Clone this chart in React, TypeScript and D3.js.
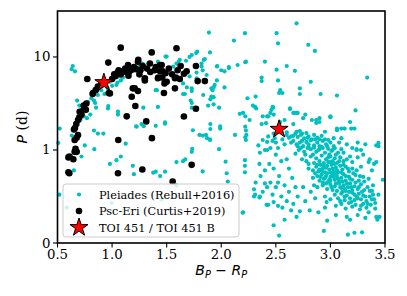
import React from 'react';
import * as d3 from 'd3';

const xTicks = [0.5, 1.0, 1.5, 2.0, 2.5, 3.0, 3.5];
const yTicks = [0, 1, 10];
const legendLabels = ['Pleiades (Rebull+2016)', 'Psc-Eri (Curtis+2019)', 'TOI 451 / TOI 451 B'];

// [Bp - Rp, period in days]
const pleiadesUpper: [number, number][] = [
  [0.64, 8.0], [0.66, 7.0], [0.63, 7.4], [0.68, 3.4], [0.70, 3.0], [0.72, 2.7], [0.74, 2.3], [0.71, 2.1],
  [0.77, 2.2], [0.80, 2.4], [0.78, 3.3], [0.81, 3.6], [0.834, 3.4], [0.845, 3.2], [0.853, 2.85], [0.87, 3.9],
  [0.90, 4.4], [0.93, 4.0], [0.96, 4.6], [0.962, 2.8], [0.965, 2.97], [0.98, 5.4], [1.0, 4.9], [1.04, 5.0],
  [1.05, 5.3], [1.08, 5.6], [1.06, 6.2], [1.10, 6.0], [1.054, 2.58], [1.054, 2.4], [1.15, 6.5], [1.2, 7.2],
  [1.25, 8.2], [1.28, 8.5], [1.33, 8.5], [1.42, 8.9], [1.49, 10.1], [1.5, 10.1], [1.56, 7.9], [1.59, 8.5],
  [1.61, 8.9], [1.62, 9.3], [1.677, 9.1], [1.71, 10.0], [1.73, 10.5], [1.77, 11.0], [1.78, 11.4], [1.82, 7.9],
  [1.82, 8.5], [1.84, 9.3], [1.85, 9.5], [1.887, 18.3], [1.897, 11.2], [1.96, 7.9], [1.963, 8.0], [2.0, 7.2],
  [2.03, 7.0], [2.07, 7.6], [2.07, 7.8], [2.116, 15], [2.15, 8.2], [2.22, 8.8], [2.217, 18], [2.226, 8.9],
  [2.4, 8.9], [2.37, 6.0], [2.37, 5.5], [1.40, 4.4], [1.41, 4.4], [1.65, 5.2], [1.71, 6.2], [1.774, 6.8],
  [1.83, 7.2], [1.866, 6.4], [1.775, 5.9], [1.96, 5.6], [1.94, 5.0], [1.91, 4.6], [1.92, 4.4], [1.93, 4.7],
  [2.03, 4.7], [1.73, 4.6], [1.73, 4.3], [1.667, 4.0], [1.65, 4.0], [1.685, 4.7], [1.72, 3.4], [1.73, 3.2],
  [1.835, 3.9], [1.91, 3.75], [1.93, 3.7], [1.93, 3.1], [1.88, 3.0], [1.98, 2.85], [1.73, 2.85], [1.9, 3.5],
  [1.42, 2.9], [1.286, 2.85], [2.24, 3.6], [2.315, 3.75], [2.29, 3.0], [2.31, 2.9], [2.32, 2.8], [2.17, 2.45],
  [2.22, 2.3], [2.26, 2.1], [2.42, 2.3], [2.41, 1.94], [2.69, 23], [2.507, 18], [2.52, 14], [2.797, 13.5],
  [2.858, 11.6], [2.6, 8.0], [2.675, 7.1], [2.507, 7.3], [2.52, 5.6], [2.82, 5.4], [3.337, 6.0], [2.72, 4.6],
  [2.72, 4.0], [2.54, 4.4], [2.56, 4.1], [2.53, 4.1], [2.91, 4.0], [3.06, 3.85], [3.23, 2.66], [2.476, 2.85],
  [2.46, 2.7], [2.63, 2.75], [2.66, 2.5], [2.69, 2.5], [2.70, 2.5], [2.45, 2.5], [3.0, 2.25], [2.9, 2.2],
  [2.87, 2.1], [2.75, 2.2], [3.18, 2.0], [3.19, 1.7], [3.13, 1.7], [3.06, 1.7], [3.10, 1.34], [2.95, 1.57],
  [3.03, 1.34], [3.44, 1.19], [3.42, 1.12], [3.24, 1.02], [2.47, 2.9], [2.38, 2.3], [2.43, 2.3], [2.37, 1.9],
  [2.48, 2.4], [2.63, 2.8], [2.67, 2.5], [2.77, 2.4], [2.83, 2.1], [2.87, 1.95], [2.9, 2.0], [2.54, 2.0],
  [2.58, 2.1], [2.66, 1.9], [2.69, 1.57], [2.64, 1.4], [2.74, 1.5], [2.48, 1.5], [2.49, 1.34], [3.0, 2.3],
  [3.06, 1.63], [3.1, 1.7], [3.22, 1.7],
];

const pleiadesMiddle: [number, number][] = [
  [1.22, 1.8], [1.27, 1.9], [1.29, 1.8], [1.40, 1.82], [1.485, 1.98], [1.485, 1.92], [1.74, 1.63], [1.80, 1.45],
  [1.83, 1.43], [1.86, 1.45], [1.87, 1.34], [1.897, 1.3], [1.90, 1.9], [1.90, 1.68], [1.99, 1.7], [1.99, 1.79],
  [1.98, 1.02], [1.734, 1.03], [1.897, 1.28], [2.126, 1.45], [2.22, 1.78], [2.226, 1.62], [2.22, 1.37],
  [2.226, 1.28], [2.23, 1.45], [2.34, 1.12], [2.354, 0.97], [2.43, 1.4], [2.2, 2.5], [0.52, 1.7], [0.507, 1.19],
  [0.63, 1.43], [0.75, 1.12], [0.834, 1.62], [0.837, 1.02], [0.87, 1.5], [0.92, 1.5], [1.125, 1.17],
  [1.225, 1.78], [0.72, 0.93], [0.65, 0.78], [0.98, 0.85], [1.04, 0.89], [1.08, 0.93], [1.19, 0.83],
  [1.2, 0.74], [0.517, 0.52], [0.585, 0.38], [0.996, 0.43], [1.377, 0.756], [1.40, 0.767], [1.44, 0.72],
  [1.485, 0.767], [1.65, 0.88], [1.67, 0.90], [1.83, 0.77], [1.73, 0.98], [1.59, 0.87], [2.04, 0.874],
  [2.05, 0.75], [2.06, 0.66], [2.217, 0.89], [2.217, 0.83], [2.217, 0.76], [2.196, 0.326], [2.3, 0.577],
  [2.3, 0.5], [2.415, 0.41], [2.4, 0.64], [1.59, 0.62], [1.454, 0.47], [2.315, 0.65], [2.31, 0.52],
  [2.35, 0.49], [2.2, 0.33], [2.42, 1.0],
];

const pleiadesCluster: [number, number][] = [
  [2.38, 1.28], [2.42, 1.22], [2.47, 1.25], [2.5, 1.2], [2.45, 1.05], [2.40, 1.0], [2.52, 1.05], [2.56, 1.3],
  [2.6, 1.45], [2.62, 1.35], [2.58, 1.15], [2.64, 1.2], [2.5, 0.95], [2.44, 0.85], [2.48, 0.8], [2.40, 0.78],
  [2.55, 0.88], [2.6, 0.9], [2.62, 0.8], [2.53, 0.72], [2.45, 0.65], [2.5, 0.6], [2.58, 0.62], [2.65, 0.7],
  [2.68, 0.6], [2.62, 0.55], [2.55, 0.5], [2.43, 0.41], [2.48, 0.44], [2.52, 0.40], [2.6, 0.45], [2.66, 0.42],
  [2.69, 0.28], [2.72, 0.34], [2.48, 0.19], [2.53, 0.08], [2.354, 0.5], [2.38, 0.55],
  [2.66, 1.42], [2.68, 1.5], [2.70, 1.38], [2.73, 1.45], [2.76, 1.33], [2.78, 1.52], [2.8, 1.4], [2.83, 1.3],
  [2.85, 1.45], [2.88, 1.36], [2.92, 1.42], [2.95, 1.3], [2.72, 1.6], [2.6, 1.55],
  [2.66, 1.25], [2.69, 1.15], [2.72, 1.2], [2.75, 1.1], [2.78, 1.22], [2.8, 1.15], [2.82, 1.27], [2.85, 1.12],
  [2.88, 1.2], [2.9, 1.1], [2.93, 1.25], [2.96, 1.15], [3.0, 1.2], [3.03, 1.1], [2.7, 1.1], [3.08, 1.2],
  [2.98, 1.28],
  [2.71, 1.0], [2.73, 1.05], [2.76, 0.98], [2.79, 1.05], [2.82, 1.02], [2.85, 1.06], [2.87, 0.98], [2.9, 1.02],
  [2.93, 1.05], [2.95, 0.97], [2.98, 1.03], [3.01, 0.99], [3.04, 1.05], [3.07, 0.97], [3.1, 1.02], [2.68, 0.96],
  [2.74, 0.9], [2.78, 0.88], [2.82, 0.93], [2.85, 0.86], [2.87, 0.91], [2.9, 0.88], [2.92, 0.94], [2.94, 0.86],
  [2.96, 0.9], [2.98, 0.87], [3.0, 0.93], [3.02, 0.88], [3.04, 0.91], [3.06, 0.86], [3.09, 0.92], [3.12, 0.88],
  [3.15, 0.9], [3.2, 0.87], [3.25, 0.92], [2.8, 0.85],
  [2.8, 0.8], [2.84, 0.78], [2.87, 0.82], [2.89, 0.77], [2.91, 0.84], [2.93, 0.8], [2.95, 0.76], [2.97, 0.83],
  [2.99, 0.79], [3.01, 0.84], [3.03, 0.77], [3.05, 0.81], [3.07, 0.76], [3.09, 0.83], [3.11, 0.79], [3.14, 0.82],
  [3.17, 0.77], [3.2, 0.8], [3.24, 0.78], [3.28, 0.82], [2.92, 0.78], [2.96, 0.81], [3.0, 0.76],
  [2.84, 0.7], [2.88, 0.72], [2.9, 0.67], [2.92, 0.74], [2.94, 0.69], [2.96, 0.72], [2.98, 0.66], [3.0, 0.71],
  [3.02, 0.74], [3.04, 0.68], [3.06, 0.72], [3.08, 0.66], [3.1, 0.7], [3.12, 0.74], [3.14, 0.67], [3.17, 0.71],
  [3.2, 0.68], [3.23, 0.73], [3.26, 0.67], [3.3, 0.71], [3.35, 0.69], [3.0, 0.67], [3.05, 0.75],
  [2.88, 0.6], [2.93, 0.62], [2.97, 0.58], [3.0, 0.63], [3.02, 0.57], [3.04, 0.61], [3.06, 0.56], [3.08, 0.64],
  [3.1, 0.59], [3.12, 0.62], [3.14, 0.56], [3.16, 0.6], [3.18, 0.64], [3.2, 0.57], [3.22, 0.61], [3.25, 0.58],
  [3.28, 0.63], [3.31, 0.57], [3.34, 0.6], [3.38, 0.56], [3.11, 0.55],
  [2.95, 0.5], [3.0, 0.47], [3.04, 0.52], [3.07, 0.48], [3.1, 0.53], [3.13, 0.46], [3.15, 0.51], [3.18, 0.48],
  [3.2, 0.54], [3.22, 0.46], [3.24, 0.5], [3.26, 0.53], [3.28, 0.47], [3.3, 0.51], [3.33, 0.45], [3.36, 0.5],
  [3.4, 0.47], [3.44, 0.52], [2.965, 0.44],
  [3.05, 0.4], [3.1, 0.42], [3.14, 0.37], [3.17, 0.43], [3.2, 0.39], [3.23, 0.41], [3.27, 0.36], [3.3, 0.42],
  [3.33, 0.38], [3.37, 0.41], [3.41, 0.43], [3.41, 0.37], [2.81, 0.35], [2.89, 0.33], [2.95, 0.38],
  [3.15, 0.28], [3.18, 0.25], [3.25, 0.3], [3.32, 0.27], [3.42, 0.28], [3.43, 0.25], [3.45, 0.28], [2.97, 0.24],
  [3.05, 0.3], [2.94, 0.13], [3.16, 0.09], [3.22, 0.11], [3.29, 0.115], [3.48, 0.68], [3.44, 1.1],
  [3.2, 1.05], [3.28, 1.0], [3.3, 0.95], [3.36, 0.9], [3.4, 0.85], [3.32, 1.15], [3.25, 1.2], [3.15, 1.15],
  [3.38, 0.78], [3.24, 1.0], [3.35, 0.87], [3.42, 0.87],
];

// extra stars filling the dense core of the cluster
const pleiadesCore: [number, number][] = [
  [2.86, 0.75], [2.88, 0.84], [2.9, 0.79], [2.91, 0.71], [2.93, 0.65], [2.94, 0.83], [2.95, 0.7], [2.96, 0.64],
  [2.97, 0.75], [2.98, 0.92], [2.99, 0.68], [3.0, 0.87], [3.01, 0.6], [3.02, 0.8], [3.03, 0.71], [3.04, 0.85],
  [3.05, 0.64], [3.06, 0.78], [3.07, 0.69], [3.08, 0.88], [3.09, 0.6], [3.1, 0.76], [3.11, 0.66], [3.12, 0.84],
  [3.13, 0.58], [3.14, 0.72], [3.15, 0.64], [3.16, 0.8], [3.17, 0.55], [3.18, 0.69], [3.19, 0.6], [3.21, 0.75],
  [3.22, 0.52], [3.23, 0.65], [3.25, 0.48], [3.26, 0.6], [3.27, 0.72], [3.29, 0.55], [3.31, 0.66], [3.32, 0.5],
  [3.34, 0.42], [3.36, 0.56], [3.38, 0.47], [3.39, 0.62], [2.84, 0.95], [2.89, 1.0], [2.92, 1.08], [2.97, 1.1],
  [3.02, 1.0], [2.77, 0.95], [2.8, 1.08], [2.74, 1.25], [2.86, 1.3], [2.9, 1.3], [2.79, 1.35], [2.99, 0.95],
  [3.05, 0.95], [3.12, 0.97], [3.18, 0.93], [3.13, 0.5], [3.19, 0.44], [3.09, 0.45], [3.35, 0.33], [3.28, 0.4],
  [3.39, 0.52], [2.36, 0.72], [2.42, 0.6], [2.47, 0.52], [2.56, 0.38], [2.64, 0.35], [2.58, 0.25], [2.35, 0.85],
  [2.52, 0.65], [2.7, 0.5], [2.75, 0.6], [2.77, 0.45], [2.82, 0.55], [2.86, 0.48], [2.85, 0.62],
];

const pscEri: [number, number][] = [
  [0.60, 0.76], [0.608, 0.75], [0.61, 0.93], [0.60, 0.92], [0.645, 0.90], [0.657, 0.98], [0.676, 0.98],
  [0.665, 1.03], [0.657, 1.28], [0.675, 1.35], [0.688, 1.45], [0.651, 1.66], [0.66, 1.72], [0.672, 1.9],
  [0.688, 2.1], [0.70, 2.25], [0.703, 2.58], [0.72, 2.4], [0.74, 3.0], [0.743, 2.8], [0.76, 2.7], [0.764, 3.16],
  [0.773, 5.8], [0.822, 4.0], [0.825, 4.1], [0.85, 4.4], [0.87, 4.8], [0.90, 5.0], [0.965, 8.7], [0.97, 4.1],
  [0.98, 4.06], [1.0, 5.8], [1.02, 6.5], [1.03, 6.2], [1.05, 6.8], [1.06, 7.2], [1.079, 12.6], [1.08, 6.5],
  [1.10, 7.0], [1.12, 7.5], [1.13, 6.9], [1.146, 8.2], [1.15, 6.3], [1.16, 7.0], [1.18, 7.3], [1.2, 7.8],
  [1.22, 7.4], [1.237, 8.9], [1.24, 9.3], [1.25, 6.5], [1.26, 7.2], [1.28, 8.0], [1.30, 5.6], [1.30, 5.9],
  [1.32, 7.5], [1.347, 8.5], [1.35, 6.9], [1.363, 11.2], [1.39, 7.2], [1.40, 7.8], [1.42, 5.9], [1.423, 6.0],
  [1.439, 8.2], [1.44, 7.0], [1.454, 8.2], [1.46, 6.0], [1.463, 7.0], [1.48, 5.2], [1.49, 6.7], [1.5, 5.4],
  [1.52, 7.5], [1.55, 6.5], [1.576, 5.9], [1.576, 4.6], [1.585, 6.0], [1.59, 12.4], [1.6, 7.2], [1.62, 5.8],
  [1.628, 8.0], [1.658, 6.6], [1.683, 7.0], [1.768, 8.0], [1.784, 5.5], [1.85, 5.5], [1.475, 4.1], [1.19, 4.6],
  [1.207, 4.6], [1.237, 4.3], [1.18, 3.74], [1.213, 2.97], [1.134, 2.3], [1.313, 2.03], [1.658, 2.29],
  [1.768, 2.77], [1.057, 1.28], [1.365, 1.34], [1.054, 0.75], [1.277, 0.79], [1.729, 0.84], [1.555, 0.66],
];

const toi451: [number, number][] = [[0.925, 5.3], [2.53, 1.67]];

const W = 407;
const H = 296;
const left = 57.5, right = 385, top = 11, bottom = 243;

// symlog like matplotlib's, linthresh 1, linear part as wide as one decade
const symlog = (v: number) => (v <= 1 ? v : 1 + Math.log10(v));

const x = d3.scaleLinear().domain([0.5, 3.5]).range([left, right]);
const yLin = d3.scaleLinear().domain([0, symlog(31.2)]).range([bottom, top]);
const y = (v: number) => yLin(symlog(v));

const star = d3.symbol().type(d3.symbolStar).size(101)() as string;
const cyan = '#00bfbf';
const serif = 'DejaVu Serif';

export default function App() {
  const pleiades = [...pleiadesUpper, ...pleiadesMiddle, ...pleiadesCluster, ...pleiadesCore];
  const legendY = [194.5, 211, 227.5];
  return (
    <svg width={W} height={H} style={{ position: 'absolute', left: 0, top: 0, background: '#fff' }}>
      <g>
        {pleiades.map((d, i) => (
          <circle key={'p' + i} cx={x(d[0])} cy={y(d[1])} r={2.1} fill={cyan} />
        ))}
        {pscEri.map((d, i) => (
          <circle key={'e' + i} cx={x(d[0])} cy={y(d[1])} r={3.3} fill="#000" />
        ))}
        {toi451.map((d, i) => (
          <path key={'s' + i} d={star} transform={`translate(${x(d[0])},${y(d[1])})`} fill="#ff0000" stroke="#000" strokeWidth={1} />
        ))}
      </g>

      {/* axes frame */}
      <rect x={left} y={top} width={right - left} height={bottom - top} fill="none" stroke="#000" strokeWidth={1.6} />

      {xTicks.map((t) => (
        <g key={'xt' + t} transform={`translate(${x(t)},${bottom})`}>
          <line y1={0} y2={4.5} stroke="#000" strokeWidth={1.1} />
          <text y={15.5} textAnchor="middle" fontFamily={serif} fontSize={13.3}>{t.toFixed(1)}</text>
        </g>
      ))}
      {yTicks.map((t) => (
        <g key={'yt' + t} transform={`translate(${left},${y(t)})`}>
          <line x1={0} x2={-4.5} stroke="#000" strokeWidth={1.1} />
          <text x={-7} y={4.5} textAnchor="end" fontFamily={serif} fontSize={13.3}>{t}</text>
        </g>
      ))}

      <text x={(left + right) / 2} y={275} textAnchor="middle" fontFamily="DejaVu Sans" fontSize={14} fontStyle="italic">
        B<tspan dy={3} fontSize={9.8}>P</tspan>
        <tspan dy={-3} fontStyle="normal"> − </tspan>R<tspan dy={3} fontSize={9.8}>P</tspan>
      </text>
      <text transform={`translate(27,${(top + bottom) / 2}) rotate(-90)`} textAnchor="middle" fontSize={14}>
        <tspan fontFamily="DejaVu Sans" fontStyle="italic">P</tspan>
        <tspan fontFamily={serif}> (d)</tspan>
      </text>

      {/* legend */}
      <rect x={63} y={184} width={176} height={53} rx={3} fill="#fff" fillOpacity={0.8} stroke="#cccccc" strokeWidth={1} />
      <circle cx={79} cy={legendY[0]} r={2.1} fill={cyan} />
      <circle cx={79} cy={legendY[1]} r={3.3} fill="#000" />
      <path d={star} transform={`translate(79,${legendY[2]})`} fill="#ff0000" stroke="#000" strokeWidth={1} />
      {legendLabels.map((l, i) => (
        <text key={l} x={99} y={legendY[i] + 4} fontFamily={serif} fontSize={11.3}>{l}</text>
      ))}
    </svg>
  );
}
